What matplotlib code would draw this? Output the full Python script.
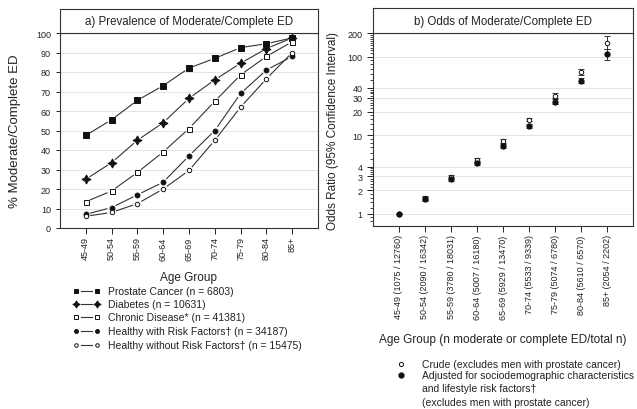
"""
Prevalence and odds of moderate/complete ED by age group (two panels).
"""

import matplotlib
matplotlib.use("Agg")
import matplotlib.pyplot as plt
import numpy as np
from matplotlib.lines import Line2D

plt.rcParams["font.family"] = ["Liberation Sans", "DejaVu Sans"]

# ---- data -------------------------------------------------------------
age_groups = ["45-49", "50-54", "55-59", "60-64", "65-69",
              "70-74", "75-79", "80-84", "85+"]
counts = ["(1075 / 12760)", "(2090 / 16342)", "(3780 / 18031)",
          "(5007 / 16180)", "(5929 / 13470)", "(5533 / 9339)",
          "(5074 / 6780)", "(5610 / 6570)", "(2054 / 2202)"]

prostate = [47.5, 55.5, 65.5, 73, 82, 87, 92.5, 94.5, 97.5]
diabetes = [25, 33.5, 45, 54, 66.5, 76, 84.5, 92, 97.5]
chronic = [13.5, 19, 28.5, 39, 51, 65, 78.5, 88, 95.5]
healthy_risk = [7, 10.5, 17, 23.5, 37, 50, 69, 81, 88]
healthy_norisk = [6, 8, 12.5, 20, 29.5, 45, 62, 76.5, 90]

crude_or = [1.0, 1.6, 2.95, 4.85, 8.5, 15.8, 32, 64, 151]
crude_lo = [1.0, 1.5, 2.8, 4.6, 8.0, 15.0, 30, 59, 125]
crude_hi = [1.0, 1.7, 3.1, 5.1, 9.0, 16.6, 34, 69, 181]
adj_or = [1.0, 1.55, 2.75, 4.45, 7.25, 13.2, 26.7, 49.4, 108]
adj_lo = [1.0, 1.45, 2.6, 4.2, 6.8, 12.4, 25, 46, 91]
adj_hi = [1.0, 1.65, 2.9, 4.7, 7.7, 14.0, 28.5, 53, 125]

series_a = [
    ("Prostate Cancer (n = 6803)", prostate, "s", 4.0, "#111111"),
    ("Diabetes (n = 10631)", diabetes, (4, 1, 0), 6.5, "#111111"),
    ("Chronic Disease* (n = 41381)", chronic, "s", 3.6, "white"),
    ("Healthy with Risk Factors\u2020 (n = 34187)", healthy_risk, "o", 3.5, "#111111"),
    ("Healthy without Risk Factors\u2020 (n = 15475)", healthy_norisk, "o", 3.2, "white"),
]

W, H = 637, 410
fig = plt.figure(figsize=(W / 100, H / 100), dpi=100)
TXT = "#222222"
GRID = "#e4e4e4"


def fx(px):
    return px / W


def fy(py):
    return 1 - py / H


def gapped_line(ax, xs, ys, gap=5.0, **kw):
    """Connect points with segments that stop short of the markers."""
    pts = ax.transData.transform(np.column_stack([xs, ys]))
    inv = ax.transData.inverted()
    for p0, p1 in zip(pts[:-1], pts[1:]):
        d = p1 - p0
        n = np.hypot(*d)
        if n <= 2 * gap:
            continue
        u = d / n
        seg = inv.transform(np.array([p0 + u * gap, p1 - u * gap]))
        ax.plot(seg[:, 0], seg[:, 1], **kw)


def title_band(left, right, top, bottom, text):
    tb = fig.add_axes([fx(left), fy(bottom), fx(right - left), fy(top) - fy(bottom)])
    tb.set_xticks([])
    tb.set_yticks([])
    for s in tb.spines.values():
        s.set_color("#333333")
        s.set_linewidth(0.8)
    tb.text(0.5, 0.5, text, ha="center", va="center", fontsize=8.3, color=TXT,
            transform=tb.transAxes)


x = np.arange(1, len(age_groups) + 1)

# ---- panel a ----------------------------------------------------------
axa = fig.add_axes([fx(60), fy(229), fx(318 - 60), fy(34) - fy(229)])
axa.set_xlim(0, 10)
axa.set_ylim(0, 100)
axa.set_yticks(range(0, 101, 10))
axa.set_xticks(x)
axa.set_xticklabels(age_groups, rotation=90, fontsize=6.5, color=TXT, va="top")
axa.tick_params(axis="y", labelsize=6.5, labelcolor=TXT, length=3, width=0.6)
axa.tick_params(axis="x", length=4, width=0.6, pad=2)
axa.grid(axis="y", color=GRID, linewidth=0.7)
axa.set_axisbelow(True)
for s in axa.spines.values():
    s.set_color("#333333")
    s.set_linewidth(0.8)
axa.set_ylabel("% Moderate/Complete ED", fontsize=9.5, color=TXT)
axa.yaxis.set_label_coords(-0.15, 0.5)
axa.set_xlabel("Age Group", fontsize=8.5, color=TXT, labelpad=8)

for label, vals, mk, ms, fc in series_a:
    gapped_line(axa, x, vals, gap=5, color="#333333", linewidth=0.8)
    axa.plot(x, vals, linestyle="none", marker=mk, markersize=ms,
             markerfacecolor=fc, markeredgecolor="#111111", markeredgewidth=0.7,
             zorder=3)

title_band(60, 318, 10, 34, "a) Prevalence of Moderate/Complete ED")

# ---- panel b ----------------------------------------------------------
axb = fig.add_axes([fx(373), fy(227), fx(633 - 373), fy(34) - fy(227)])
axb.set_yscale("log")
axb.set_xlim(0, 10)
axb.set_ylim(0.7, 200)
major = [1, 2, 3, 4, 10, 20, 30, 40, 100, 200]
minor = [0.8, 0.9, 1.2, 1.4, 1.6, 1.8, 2.2, 2.4, 2.6, 2.8, 3.2, 3.4, 3.6, 3.8,
         5, 6, 7, 8, 9, 12, 14, 16, 18, 22, 24, 26, 28, 32, 34, 36, 38,
         50, 60, 70, 80, 90, 110, 120, 130, 140, 150, 160, 170, 180, 190]
axb.set_yticks(major)
axb.set_yticklabels([str(v) for v in major])
axb.set_yticks(minor, minor=True)
axb.yaxis.set_minor_formatter(plt.NullFormatter())
axb.tick_params(axis="y", which="major", labelsize=6.5, labelcolor=TXT,
                length=4, width=0.6)
axb.tick_params(axis="y", which="minor", length=2, width=0.5)
axb.set_xticks(x)
axb.set_xticklabels([f"{a} {c}" for a, c in zip(age_groups, counts)],
                    rotation=90, fontsize=6.5, color=TXT, va="top")
axb.tick_params(axis="x", length=4, width=0.6, pad=2)
for v in major[:-1]:
    axb.axhline(v, color=GRID, linewidth=0.7, zorder=0)
for s in axb.spines.values():
    s.set_color("#333333")
    s.set_linewidth(0.8)
axb.set_ylabel("Odds Ratio (95% Confidence Interval)", fontsize=8.5, color=TXT)
axb.yaxis.set_label_coords(-0.13, 0.5)
axb.set_xlabel("Age Group (n moderate or complete ED/total n)", fontsize=8.5,
               color=TXT, labelpad=10)

cr = np.array(crude_or)
ad = np.array(adj_or)
axb.errorbar(x, cr, yerr=[cr - np.array(crude_lo), np.array(crude_hi) - cr],
             fmt="o", markersize=3.2, markerfacecolor="white",
             markeredgecolor="#111111", markeredgewidth=0.7, ecolor="#333333",
             elinewidth=0.7, capsize=2.5, capthick=0.7, zorder=3)
axb.errorbar(x, ad, yerr=[ad - np.array(adj_lo), np.array(adj_hi) - ad],
             fmt="o", markersize=3.8, markerfacecolor="#111111",
             markeredgecolor="#111111", markeredgewidth=0.7, ecolor="#333333",
             elinewidth=0.7, capsize=2.5, capthick=0.7, zorder=4)

title_band(373, 633, 9, 34, "b) Odds of Moderate/Complete ED")

# ---- legends (pixel overlay) -----------------------------------------
ov = fig.add_axes([0, 0, 1, 1], facecolor="none")
ov.set_xlim(0, W)
ov.set_ylim(H, 0)
ov.axis("off")

rows_a = [292, 305, 318, 332, 346]
for (label, vals, mk, ms, fc), yy in zip(series_a, rows_a):
    ov.add_line(Line2D([81, 92], [yy, yy], color="#333333", linewidth=0.8))
    ov.plot([76, 97], [yy, yy], linestyle="none", marker=mk, markersize=ms * 0.8,
            markerfacecolor=fc, markeredgecolor="#111111", markeredgewidth=0.7)
    ov.text(108, yy, label, fontsize=7.5, color=TXT, va="center", ha="left")

ov.plot([401], [365], linestyle="none", marker="o", markersize=3.0,
        markerfacecolor="white", markeredgecolor="#111111", markeredgewidth=0.7)
ov.plot([401], [376], linestyle="none", marker="o", markersize=3.5,
        markerfacecolor="#111111", markeredgecolor="#111111")
legend_b = [
    (365, "Crude (excludes men with prostate cancer)"),
    (376, "Adjusted for sociodemographic characteristics"),
    (389, "and lifestyle risk factors\u2020"),
    (403, "(excludes men with prostate cancer)"),
]
for yy, t in legend_b:
    ov.text(422, yy, t, fontsize=7.5, color=TXT, va="center", ha="left")

fig.savefig("out.png", dpi=100)
plt.close(fig)
